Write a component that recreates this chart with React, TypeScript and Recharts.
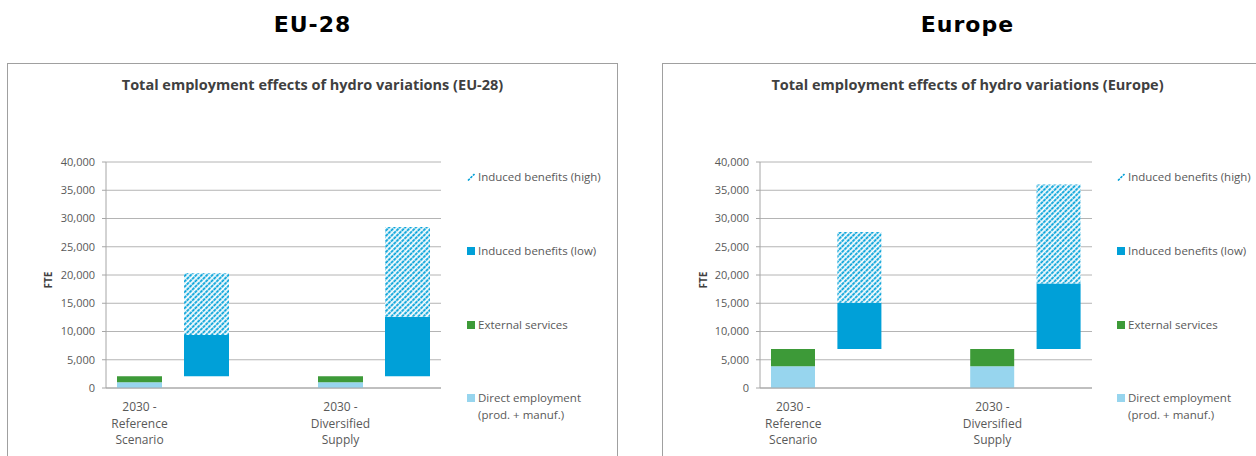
import React from "react";
import { BarChart, Bar, XAxis, YAxis, CartesianGrid } from "recharts";

const FONT = '"Open Sans", sans-serif';

const CATEGORY_KEYS = ["ref", "refInduced", "gap", "div", "divInduced"];
const CATEGORY_LABELS = ["2030 -\nReference\nScenario", "", "", "2030 -\nDiversified\nSupply", ""];
const Y_TICKS = [0, 5000, 10000, 15000, 20000, 25000, 30000, 35000, 40000];

// EU-28 (FTE)
const eu28Base = [0, 2100, 0, 0, 2100];
const eu28Direct = [1000, 0, 0, 1000, 0];
const eu28External = [1100, 0, 0, 1100, 0];
const eu28InducedLow = [0, 7300, 0, 0, 10500];
const eu28InducedHigh = [0, 10900, 0, 0, 15900];

// Europe (FTE)
const europeBase = [0, 6900, 0, 0, 6900];
const europeDirect = [3850, 0, 0, 3850, 0];
const europeExternal = [3050, 0, 0, 3050, 0];
const europeInducedLow = [0, 8200, 0, 0, 11600];
const europeInducedHigh = [0, 12500, 0, 0, 17500];

const COLORS = {
  direct: "#97d5ee",
  external: "#3d9a38",
  low: "#00a0d8",
  high: "#00a0d8",
};

const LEGEND_ITEMS = [
  { kind: "high", lines: ["Induced benefits (high)"] },
  { kind: "low", lines: ["Induced benefits (low)"] },
  { kind: "external", lines: ["External services"] },
  { kind: "direct", lines: ["Direct employment", "(prod. + manuf.)"] },
];

function buildRows(base: number[], direct: number[], external: number[], low: number[], high: number[]) {
  return CATEGORY_KEYS.map((key, i) => ({
    key,
    base: base[i],
    direct: direct[i],
    external: external[i],
    low: low[i],
    high: high[i],
  }));
}

// diagonal "/" hatch, dotted lines on white
const Hatch = ({ id }: { id: string }) => (
  <pattern id={id} patternUnits="userSpaceOnUse" width="3.8" height="3.8" patternTransform="rotate(45)">
    <rect width="3.8" height="3.8" fill="#fff" />
    <line x1="1.2" y1="0" x2="1.2" y2="3.8" stroke={COLORS.high} strokeWidth="1.9" strokeDasharray="3.2 0.6" />
  </pattern>
);

const XTick = (props: any) => {
  const { x, y, payload } = props;
  const idx = CATEGORY_KEYS.indexOf(payload.value);
  const label = CATEGORY_LABELS[idx] || "";
  if (!label) return null;
  return (
    <text x={x} y={y} textAnchor="middle" fill="#595959" fontSize={12} fontFamily={FONT}>
      {label.split("\n").map((l, i) => (
        <tspan key={i} x={x} y={y + 23 + i * 16.5}>
          {l}
        </tspan>
      ))}
    </text>
  );
};

interface PanelCfg {
  left: number;
  yWidth: number;
  marginRight: number;
  barSize: number;
  legendLeft: number;
  patternId: string;
}

const LEGEND_Y = [113, 187, 261, 334];

function Legend({ cfg }: { cfg: PanelCfg }) {
  return (
    <>
      {LEGEND_ITEMS.map((item, i) => (
        <div key={item.kind} style={{ position: "absolute", left: cfg.legendLeft, top: LEGEND_Y[i] - 9 }}>
          <svg width={8} height={8} style={{ position: "absolute", left: 0, top: 5 }}>
            {item.kind === "high" ? (
              <line x1={1} y1={7.5} x2={7.5} y2={1} stroke={COLORS.high} strokeWidth={1.6} strokeDasharray="2.5 1" />
            ) : (
              <rect width={8} height={8} fill={COLORS[item.kind as keyof typeof COLORS]} />
            )}
          </svg>
          <div
            style={{
              position: "absolute",
              left: 11,
              top: 0,
              whiteSpace: "nowrap",
              fontFamily: FONT,
              fontSize: 11.5,
              lineHeight: "17px",
              color: "#595959",
            }}
          >
            {item.lines.map((l) => (
              <div key={l}>{l}</div>
            ))}
          </div>
        </div>
      ))}
    </>
  );
}

function Panel({ heading, title, rows, cfg }: { heading: string; title: string; rows: any[]; cfg: PanelCfg }) {
  return (
    <>
      <div
        style={{
          position: "absolute",
          left: cfg.left,
          top: 14,
          width: 611,
          textAlign: "center",
          fontFamily: '"DejaVu Sans", sans-serif',
          fontWeight: "bold",
          fontSize: 22,
          lineHeight: "22px",
          letterSpacing: 1,
          color: "#000",
        }}
      >
        {heading}
      </div>
      <div
        style={{
          position: "absolute",
          left: cfg.left,
          top: 63,
          width: 611,
          height: 420,
          boxSizing: "border-box",
          border: "1px solid #a0a0a0",
          background: "#fff",
        }}
      >
        <div
          style={{
            position: "absolute",
            left: 0,
            right: 0,
            top: 12,
            textAlign: "center",
            fontFamily: FONT,
            fontWeight: "bold",
            fontSize: 14.5,
            lineHeight: "18px",
            color: "#404040",
          }}
        >
          {title}
        </div>
        <div
          style={{
            position: "absolute",
            left: 40 - 20,
            top: 216 - 8,
            width: 40,
            height: 16,
            lineHeight: "16px",
            textAlign: "center",
            transform: "rotate(-90deg)",
            fontFamily: FONT,
            fontWeight: "bold",
            fontSize: 10,
            color: "#404040",
          }}
        >
          FTE
        </div>
        <div style={{ position: "absolute", left: 0, top: 0 }}>
          <BarChart
            width={609}
            height={390}
            data={rows}
            barSize={cfg.barSize}
            margin={{ top: 98, right: cfg.marginRight, left: 0, bottom: 6 }}
          >
            <defs>
              <Hatch id={cfg.patternId} />
            </defs>
            <CartesianGrid vertical={false} stroke="#b4b4b4" />
            <XAxis
              dataKey="key"
              tick={<XTick />}
              tickLine={false}
              tickSize={0}
              tickMargin={0}
              interval={0}
              height={60}
              axisLine={{ stroke: "#a6a6a6" }}
            />
            <YAxis
              domain={[0, 40000]}
              ticks={Y_TICKS}
              interval={0}
              width={cfg.yWidth}
              tickFormatter={(v: number) => v.toLocaleString("en-US")}
              tick={{ fill: "#595959", fontSize: 11, fontFamily: FONT }}
              tickLine={{ stroke: "#a6a6a6" }}
              tickSize={4}
              tickMargin={7}
              axisLine={{ stroke: "#a6a6a6" }}
            />
            <Bar dataKey="base" stackId="a" fill="transparent" isAnimationActive={false} />
            <Bar dataKey="direct" stackId="a" fill={COLORS.direct} isAnimationActive={false} />
            <Bar dataKey="external" stackId="a" fill={COLORS.external} isAnimationActive={false} />
            <Bar dataKey="low" stackId="a" fill={COLORS.low} isAnimationActive={false} />
            <Bar dataKey="high" stackId="a" fill={`url(#${cfg.patternId})`} isAnimationActive={false} />
          </BarChart>
        </div>
        <Legend cfg={cfg} />
      </div>
    </>
  );
}

export default function App() {
  const eu28Rows = buildRows(eu28Base, eu28Direct, eu28External, eu28InducedLow, eu28InducedHigh);
  const europeRows = buildRows(europeBase, europeDirect, europeExternal, europeInducedLow, europeInducedHigh);
  return (
    <div
      style={{
        position: "absolute",
        left: 0,
        top: 0,
        width: 1256,
        height: 456,
        overflow: "hidden",
        background: "#fff",
      }}
    >
      <Panel
        heading="EU-28"
        title="Total employment effects of hydro variations (EU-28)"
        rows={eu28Rows}
        cfg={{ left: 7, yWidth: 98, marginRight: 176, barSize: 45, legendLeft: 459, patternId: "hatch-eu28" }}
      />
      <Panel
        heading="Europe"
        title="Total employment effects of hydro variations (Europe)"
        rows={europeRows}
        cfg={{ left: 662, yWidth: 97, marginRight: 180, barSize: 44, legendLeft: 454, patternId: "hatch-europe" }}
      />
    </div>
  );
}
